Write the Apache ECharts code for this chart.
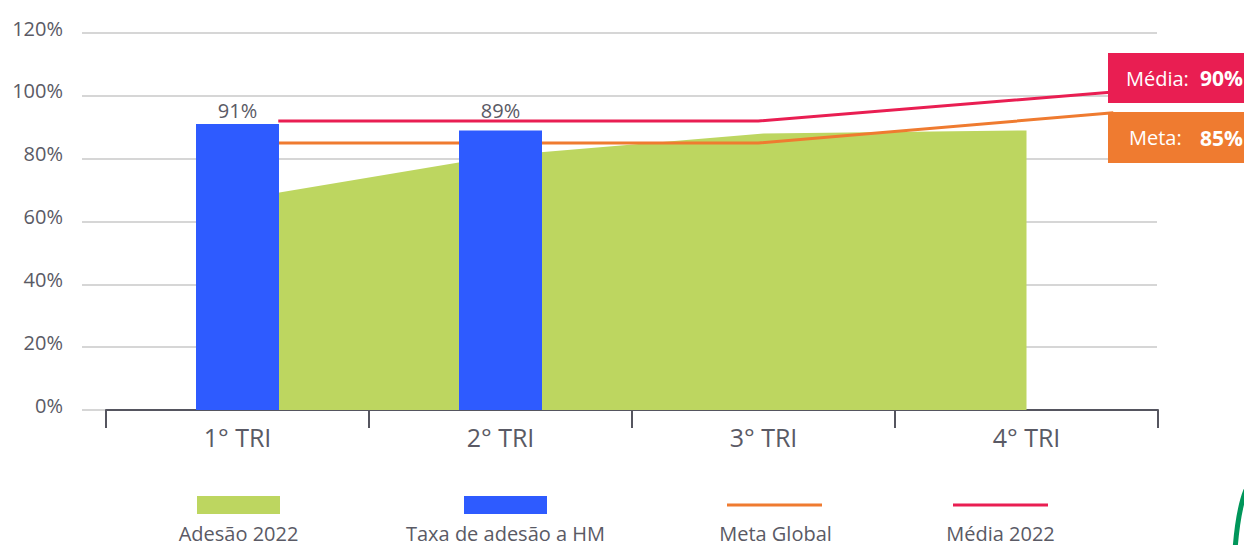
<!DOCTYPE html>
<html>
<head>
<meta charset="utf-8">
<script src="https://cdn.jsdelivr.net/npm/echarts@6.0.0/dist/echarts.min.js"></script>
<style>
  html, body { margin: 0; padding: 0; background: #fff; }
  #chart { width: 1244px; height: 545px; }
</style>
</head>
<body>
<div id="chart"></div>
<script>
// categorias e valores
const categories = ["1° TRI", "2° TRI", "3° TRI", "4° TRI"];
const adesao2022 = [67, 81, 88, 89];
const taxaHM = [91, 89, null, null];
// linhas de referência: [posição no eixo (índice da categoria), valor %]
const metaGlobal = [[0.155, 85], [1.98, 85], [3.33, 94.6]];
const media2022 = [[0.155, 92], [1.98, 92], [3.33, 101.2]];
const yTicks = [0, 20, 40, 60, 80, 100, 120];
const mediaValue = 90;
const metaValue = 85;

const names = ["Adesão 2022", "Taxa de adesão a HM", "Meta Global", "Média 2022"];
const colors = {
  green: "#bdd660",
  blue: "#2e5bff",
  orange: "#ef7b30",
  red: "#e91e52",
  text: "#5a5a65"
};
const font = "'Open Sans', 'Noto Sans', sans-serif";
// rótulos das barras ficam todos na mesma altura
const labelDistance = [4, 10];

const chart = echarts.init(document.getElementById("chart"), null, { renderer: "svg" });

const legendText = (x, text) => ({
  type: "text", x: x, y: 533,
  style: { text: text, fill: colors.text, font: "20px " + font, lineHeight: 20, align: "center", verticalAlign: "middle" }
});

const option = {
  animation: false,
  textStyle: { fontFamily: font },
  grid: [
    { left: 106, right: 86, top: 33, bottom: 135 },
    { left: 82, right: 87, top: 33, bottom: 135 }
  ],
  xAxis: [
    {
      type: "category",
      gridIndex: 0,
      data: categories,
      boundaryGap: true,
      axisLine: { lineStyle: { color: "#55555f", width: 2 } },
      axisTick: { show: true, length: 18, lineStyle: { color: "#55555f", width: 2 } },
      axisLabel: { color: colors.text, fontSize: 25, margin: 14, fontFamily: font }
    },
    { type: "value", gridIndex: 0, min: -0.5, max: 3.5, show: false },
    { type: "value", gridIndex: 1, min: 0, max: 1, show: false }
  ],
  yAxis: [
    { type: "value", gridIndex: 0, min: 0, max: 120, interval: 20, show: false },
    {
      type: "value",
      gridIndex: 1,
      min: yTicks[0],
      max: yTicks[yTicks.length - 1],
      interval: 20,
      axisLine: { show: false },
      axisTick: { show: false },
      axisLabel: {
        color: colors.text,
        fontSize: 20,
        margin: 19,
        fontFamily: font,
        verticalAlign: "bottom",
        lineHeight: 10,
        formatter: v => v + "%"
      },
      splitLine: { lineStyle: { color: "#c8c8c8", width: 1.5 } }
    }
  ],
  series: [
    {
      name: names[0],
      type: "line",
      xAxisIndex: 0,
      yAxisIndex: 0,
      data: adesao2022,
      symbol: "none",
      lineStyle: { width: 0 },
      areaStyle: { color: colors.green, opacity: 1 },
      z: 1
    },
    {
      name: names[2],
      type: "line",
      xAxisIndex: 1,
      yAxisIndex: 0,
      data: metaGlobal,
      symbol: "none",
      lineStyle: { color: colors.orange, width: 3 },
      z: 2
    },
    {
      name: names[3],
      type: "line",
      xAxisIndex: 1,
      yAxisIndex: 0,
      data: media2022,
      symbol: "none",
      lineStyle: { color: colors.red, width: 3 },
      z: 2
    },
    {
      name: names[1],
      type: "bar",
      xAxisIndex: 0,
      yAxisIndex: 0,
      data: taxaHM.map((v, i) => ({ value: v, label: { distance: labelDistance[i] || 4 } })),
      barWidth: 83,
      itemStyle: { color: colors.blue },
      label: {
        show: true,
        position: "top",
        color: colors.text,
        fontSize: 20,
        fontFamily: font,
        formatter: p => p.value + "%"
      },
      z: 3
    }
  ],
  graphic: [
    // legenda
    { type: "rect", left: 197, top: 496, shape: { width: 83, height: 18 }, style: { fill: colors.green } },
    legendText(238.5, names[0]),
    { type: "rect", left: 464, top: 496, shape: { width: 83, height: 18 }, style: { fill: colors.blue } },
    legendText(505.5, names[1]),
    { type: "line", shape: { x1: 727, y1: 505, x2: 822, y2: 505 }, style: { stroke: colors.orange, lineWidth: 3 } },
    legendText(775.5, names[2]),
    { type: "line", shape: { x1: 953, y1: 505, x2: 1048, y2: 505 }, style: { stroke: colors.red, lineWidth: 3 } },
    legendText(1000.5, names[3]),

    // caixas de destaque à direita
    { type: "rect", z: 100, shape: { x: 1108, y: 53, width: 140, height: 50 }, style: { fill: colors.red } },
    { type: "text", z: 101, x: 1126, y: 78, style: { text: "Média:", fill: "#fff", font: "20px " + font, verticalAlign: "middle" } },
    { type: "text", z: 101, x: 1200, y: 78, style: { text: mediaValue + "%", fill: "#fff", font: "bold 21px " + font, verticalAlign: "middle" } },
    { type: "rect", z: 100, shape: { x: 1108, y: 112, width: 140, height: 51 }, style: { fill: colors.orange } },
    { type: "text", z: 101, x: 1129, y: 137.5, style: { text: "Meta:", fill: "#fff", font: "20px " + font, verticalAlign: "middle" } },
    { type: "text", z: 101, x: 1200, y: 137.5, style: { text: metaValue + "%", fill: "#fff", font: "bold 21px " + font, verticalAlign: "middle" } },

    // arco verde no canto
    { type: "bezierCurve", shape: { x1: 1246, y1: 490, cpx1: 1238, cpy1: 510, x2: 1235, y2: 550 }, style: { stroke: "#00965a", lineWidth: 5, fill: null } }
  ]
};

chart.setOption(option);
</script>
</body>
</html>
